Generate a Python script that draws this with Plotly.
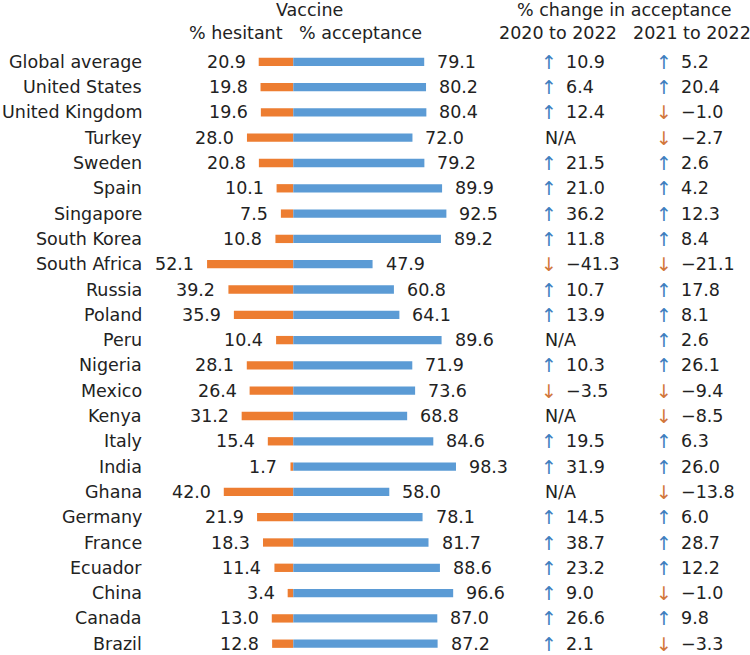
import plotly.graph_objects as go

countries = ["Global average", "United States", "United Kingdom", "Turkey", "Sweden", "Spain",
             "Singapore", "South Korea", "South Africa", "Russia", "Poland", "Peru", "Nigeria",
             "Mexico", "Kenya", "Italy", "India", "Ghana", "Germany", "France", "Ecuador",
             "China", "Canada", "Brazil"]
hesitant = [20.9, 19.8, 19.6, 28.0, 20.8, 10.1, 7.5, 10.8, 52.1, 39.2, 35.9, 10.4, 28.1,
            26.4, 31.2, 15.4, 1.7, 42.0, 21.9, 18.3, 11.4, 3.4, 13.0, 12.8]
acceptance = [79.1, 80.2, 80.4, 72.0, 79.2, 89.9, 92.5, 89.2, 47.9, 60.8, 64.1, 89.6, 71.9,
              73.6, 68.8, 84.6, 98.3, 58.0, 78.1, 81.7, 88.6, 96.6, 87.0, 87.2]
change_2020 = [10.9, 6.4, 12.4, None, 21.5, 21.0, 36.2, 11.8, -41.3, 10.7, 13.9, None, 10.3,
               -3.5, None, 19.5, 31.9, None, 14.5, 38.7, 23.2, 9.0, 26.6, 2.1]
change_2021 = [5.2, 20.4, -1.0, -2.7, 2.6, 4.2, 12.3, 8.4, -21.1, 17.8, 8.1, 2.6, 26.1,
               -9.4, -8.5, 6.3, 26.0, -13.8, 6.0, 28.7, 12.2, -1.0, 9.8, -3.3]

ORANGE = "#ED7D31"
BLUE = "#5B9BD5"
ARROW_UP = "#3F7FBF"
ARROW_DOWN = "#D2773A"
TXT = "#222222"
FONT = "DejaVu Sans"
FS = 17.5

W, H = 750, 655
PXU = 1.655           # pixels per percentage unit
ZERO_PX = 293.3
ROW_PX = 25.3
TOP_ROW_PX = 61.8

x0 = -ZERO_PX / PXU
x1 = x0 + W / PXU
ytop = TOP_ROW_PX / ROW_PX
ybot = ytop - H / ROW_PX

ypos = [-i for i in range(len(countries))]

fig = go.Figure()
fig.add_trace(go.Bar(y=ypos, x=[-h for h in hesitant], orientation="h", width=0.33,
                     marker=dict(color=ORANGE, line=dict(width=0)), hoverinfo="skip"))
fig.add_trace(go.Bar(y=ypos, x=acceptance, orientation="h", width=0.33,
                     marker=dict(color=BLUE, line=dict(width=0)), hoverinfo="skip"))

ann = []


def t(text, x, y, xanchor="center", xref="paper", color=TXT, xshift=0, size=FS):
    ann.append(dict(text=text, x=x, y=y, xref=xref, yref="y", xanchor=xanchor,
                    yanchor="middle", showarrow=False, xshift=xshift,
                    font=dict(family=FONT, size=size, color=color)))


def px(p):
    return p / W


def fmt(v):
    s = f"{abs(v):.1f}"
    return ("\u2212" + s) if v < 0 else s


for i, c in enumerate(countries):
    y = ypos[i]
    t(c, px(144), y, "right")
    t(f"{hesitant[i]:.1f}", -hesitant[i], y, "right", xref="x", xshift=-11)
    t(f"{acceptance[i]:.1f}", acceptance[i], y, "left", xref="x", xshift=11)
    v = change_2020[i]
    if v is None:
        t("N/A", px(543), y, "left")
    else:
        t("\u2191" if v >= 0 else "\u2193", px(548.5), y, "center",
          color=ARROW_UP if v >= 0 else ARROW_DOWN, size=19)
        t(fmt(v), px(564), y, "left")
    v = change_2021[i]
    t("\u2191" if v >= 0 else "\u2193", px(663.5), y, "center",
      color=ARROW_UP if v >= 0 else ARROW_DOWN, size=19)
    t(fmt(v), px(679), y, "left")

# headers
yh1 = (TOP_ROW_PX - 10) / ROW_PX
yh2 = (TOP_ROW_PX - 32.5) / ROW_PX
t("Vaccine", px(309), yh1)
t("% hesitant", px(235.5), yh2)
t("% acceptance", px(360), yh2)
t("% change in acceptance", px(624), yh1)
t("2020 to 2022", px(558), yh2)
t("2021 to 2022", px(692), yh2)

fig.update_layout(
    width=W, height=H, margin=dict(l=0, r=0, t=0, b=0),
    paper_bgcolor="white", plot_bgcolor="white",
    barmode="relative", showlegend=False, annotations=ann,
    xaxis=dict(range=[x0, x1], visible=False, fixedrange=True),
    yaxis=dict(range=[ybot, ytop], visible=False, fixedrange=True),
)

fig.write_html("out.html", config={"displayModeBar": False, "staticPlot": True},
               post_script="document.body.style.margin='0';document.body.style.overflow='hidden';")
